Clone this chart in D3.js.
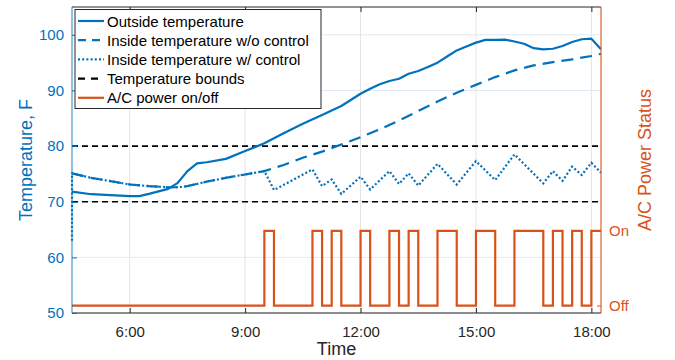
<!DOCTYPE html>
<html>
<head>
<meta charset="utf-8">
<script src="https://cdn.jsdelivr.net/npm/d3@7"></script>
<style>
  body { margin: 0; background: #fff; }
  text { font-family: "Liberation Sans", Arial, Helvetica, sans-serif; }
</style>
</head>
<body>
<div id="chart"></div>
<script>
var svgWidth = 675;
var svgHeight = 360;

var margin = {top: 7, right: 74, bottom: 47, left: 72};

var chartWidth = svgWidth - margin.left - margin.right;
var chartHeight = svgHeight - margin.top - margin.bottom;

// hours of day and temperatures (F)
var outsideHours = [4.5, 5, 5.5, 6, 6.25, 6.5, 7, 7.25, 7.5, 7.75, 8, 8.5, 9, 9.5, 10, 10.5, 11, 11.5, 12, 12.25, 12.5, 12.75, 13, 13.25, 13.5, 13.75, 14, 14.25, 14.5, 14.75, 15, 15.25, 15.5, 15.75, 16, 16.25, 16.5, 16.75, 17, 17.25, 17.5, 17.75, 18, 18.25];
var outsideTemp = [71.8, 71.35, 71.2, 71.0, 71.0, 71.4, 72.3, 73.4, 75.5, 76.9, 77.1, 77.7, 79.1, 80.5, 82.3, 84.0, 85.6, 87.2, 89.4, 90.3, 91.1, 91.7, 92.1, 93.0, 93.5, 94.2, 95.0, 96.1, 97.2, 97.9, 98.6, 99.1, 99.1, 99.15, 98.8, 98.4, 97.6, 97.4, 97.5, 98.0, 98.7, 99.2, 99.3, 97.4];

var noCtrlHours = [4.5, 5, 5.5, 6, 6.5, 7, 7.25, 7.5, 8, 8.5, 9, 9.5, 10, 10.5, 11, 11.5, 12, 12.5, 13, 13.5, 14, 14.5, 15, 15.5, 16, 16.5, 17, 17.5, 18, 18.25];
var noCtrlTemp = [75.1, 74.3, 73.7, 73.1, 72.8, 72.6, 72.6, 72.8, 73.6, 74.3, 74.9, 75.5, 76.6, 77.9, 79.0, 80.3, 81.6, 83.0, 84.6, 86.3, 88.0, 89.6, 91.0, 92.4, 93.6, 94.5, 95.1, 95.6, 96.2, 96.6];

var ctrlHours = [4.5, 4.5, 5, 5.5, 6, 6.5, 7, 7.25, 7.5, 8, 8.5, 9, 9.5, 9.75, 10.75, 11, 11.25, 11.5, 12, 12.25, 12.75, 13, 13.25, 13.5, 14, 14.5, 15, 15.5, 16, 16.75, 17, 17.25, 17.5, 17.75, 18, 18.25];
var ctrlTemp = [63.0, 75.1, 74.3, 73.7, 73.1, 72.8, 72.6, 72.6, 72.8, 73.6, 74.3, 74.9, 75.5, 72.1, 75.8, 72.8, 74.0, 71.4, 74.5, 72.2, 75.5, 73.2, 75.1, 72.9, 76.8, 73.1, 77.3, 73.9, 78.5, 73.3, 75.5, 73.75, 76.3, 74.8, 77.0, 75.2];

var boundTemps = [80, 70];

// A/C on intervals (hours)
var acOnStart = [9.5, 10.75, 11.25, 12, 12.75, 13.25, 14, 15, 16, 17, 17.5, 18];
var acOnEnd = [9.75, 11, 11.5, 12.25, 13, 13.5, 14.5, 15.5, 16.75, 17.25, 17.75, 18.25];

var hourTicks = [6, 9, 12, 15, 18];
var tempTicks = [50, 60, 70, 80, 90, 100];
var statusTicks = [0, 1];
var statusLabels = ["Off", "On"];

var legendLabels = ["Outside temperature", "Inside temperature w/o control", "Inside temperature w/ control", "Temperature bounds", "A/C power on/off"];

var blue = "#0072BD";
var orange = "#D95319";
var dark = "#262626";

var svg = d3.select("#chart").append("svg")
            .attr("width", svgWidth)
            .attr("height", svgHeight);

var chartGroup = svg.append("g")
                    .attr("transform", `translate(${margin.left}, ${margin.top})`);

// Scales
var xScale = d3.scaleLinear().domain([4.5, 18.25]).range([0, chartWidth]);
var yScale = d3.scaleLinear().domain([50, 105]).range([chartHeight, 0]);
var yRight = d3.scaleLinear().domain([-0.1, 4]).range([chartHeight, 0]);

// Grid
chartGroup.append("g").selectAll("line")
    .data(hourTicks).enter().append("line")
    .attr("x1", d => xScale(d)).attr("x2", d => xScale(d))
    .attr("y1", 0).attr("y2", chartHeight)
    .attr("stroke", "#e4e4e4").attr("stroke-width", 1);

chartGroup.append("g").selectAll("line")
    .data(tempTicks).enter().append("line")
    .attr("x1", 0).attr("x2", chartWidth)
    .attr("y1", d => yScale(d)).attr("y2", d => yScale(d))
    .attr("stroke", "#dfeaf5").attr("stroke-width", 1);

// Temperature bounds
chartGroup.append("g").selectAll("line")
    .data(boundTemps).enter().append("line")
    .attr("x1", 0).attr("x2", chartWidth)
    .attr("y1", d => yScale(d)).attr("y2", d => yScale(d))
    .attr("stroke", "#000").attr("stroke-width", 1.6)
    .attr("stroke-dasharray", "6,4");

// A/C status as stairs
var acPoints = [[4.5, 0]];
acOnStart.forEach(function(s, i) {
    acPoints.push([s, 1]);
    acPoints.push([acOnEnd[i], 0]);
});
if (acOnEnd[acOnEnd.length - 1] >= 18.25) {
    acPoints[acPoints.length - 1] = [18.25, 1];
}

var stepLine = d3.line()
    .x(d => xScale(d[0]))
    .y(d => yRight(d[1]))
    .curve(d3.curveStepAfter);

var tempLine = d3.line()
    .x(d => xScale(d[0]))
    .y(d => yScale(d[1]));

var outside = outsideHours.map((h, i) => [h, outsideTemp[i]]);
var noCtrl = noCtrlHours.map((h, i) => [h, noCtrlTemp[i]]);
var ctrl = ctrlHours.map((h, i) => [h, ctrlTemp[i]]);

chartGroup.append("path")
    .attr("d", tempLine(outside))
    .attr("fill", "none").attr("stroke", blue).attr("stroke-width", 2.2)
    .attr("stroke-linejoin", "round");

chartGroup.append("path")
    .attr("d", tempLine(noCtrl))
    .attr("fill", "none").attr("stroke", blue).attr("stroke-width", 2.2)
    .attr("stroke-dasharray", "12,7");

chartGroup.append("path")
    .attr("d", tempLine(ctrl))
    .attr("fill", "none").attr("stroke", blue).attr("stroke-width", 2.2)
    .attr("stroke-dasharray", "2,2.2");

chartGroup.append("path")
    .attr("d", stepLine(acPoints))
    .attr("fill", "none").attr("stroke", orange).attr("stroke-width", 2.2);

// Axes
var xAxis = d3.axisBottom(xScale).tickValues(hourTicks)
    .tickFormat(d => d + ":00").tickSize(-5).tickPadding(13);
var xTop = d3.axisTop(xScale).tickValues(hourTicks)
    .tickFormat("").tickSize(-5);
var yAxis = d3.axisLeft(yScale).tickValues(tempTicks).tickSize(-5).tickPadding(8);
var yAxisRight = d3.axisRight(yRight).tickValues(statusTicks)
    .tickFormat((d, i) => statusLabels[i]).tickSize(-4).tickPadding(8);

var gx = chartGroup.append("g")
    .attr("transform", `translate(0, ${chartHeight})`)
    .call(xAxis);
gx.select(".domain").attr("stroke", dark).attr("d", `M0,0H${chartWidth}`);
gx.selectAll(".tick line").attr("stroke", dark);
gx.selectAll("text").attr("fill", dark).attr("font-size", "15px");

var gTop = chartGroup.append("g").call(xTop);
gTop.select(".domain").attr("stroke", dark).attr("d", `M0,0H${chartWidth}`);
gTop.selectAll(".tick line").attr("stroke", dark);

var gy = chartGroup.append("g").call(yAxis);
gy.select(".domain").attr("stroke", blue).attr("stroke-width", 1.6)
    .attr("stroke-opacity", 0.55).attr("d", `M0,${chartHeight}V0`);
gy.selectAll(".tick line").attr("stroke", blue);
gy.selectAll("text").attr("fill", blue).attr("font-size", "15px");

var gyr = chartGroup.append("g")
    .attr("transform", `translate(${chartWidth}, 0)`)
    .call(yAxisRight);
gyr.select(".domain").attr("stroke", orange).attr("stroke-width", 2)
    .attr("stroke-opacity", 0.55).attr("d", `M0,${chartHeight}V0`);
gyr.selectAll(".tick line").attr("stroke", orange);
gyr.selectAll("text").attr("fill", orange).attr("font-size", "15px");

// Axis labels
chartGroup.append("text")
    .attr("transform", `translate(${chartWidth / 2}, ${chartHeight + 42})`)
    .attr("text-anchor", "middle")
    .attr("font-size", "18px")
    .attr("fill", dark)
    .text("Time");

chartGroup.append("text")
    .attr("transform", `translate(${-margin.left + 32}, ${chartHeight / 2}) rotate(-90)`)
    .attr("text-anchor", "middle")
    .attr("font-size", "18px")
    .attr("fill", blue)
    .text("Temperature, F");

chartGroup.append("text")
    .attr("transform", `translate(${chartWidth + 50}, ${chartHeight / 2}) rotate(-90)`)
    .attr("text-anchor", "middle")
    .attr("font-size", "18px")
    .attr("fill", orange)
    .text("A/C Power Status");

// Legend
var legendStyles = [
    {color: blue, dash: null},
    {color: blue, dash: "8,6"},
    {color: blue, dash: "2,2.2"},
    {color: "#000", dash: "7,6"},
    {color: orange, dash: null}
];

var legend = chartGroup.append("g").attr("transform", "translate(3, 2.5)");
legend.append("rect")
    .attr("width", 246).attr("height", 99)
    .attr("fill", "#fff").attr("stroke", dark).attr("stroke-width", 1);

var rows = legend.selectAll("g.row")
    .data(legendLabels).enter().append("g")
    .attr("transform", (d, i) => `translate(0, ${11.5 + i * 19.2})`);

rows.append("line")
    .attr("x1", 3).attr("x2", 29).attr("y1", 0).attr("y2", 0)
    .attr("stroke", (d, i) => legendStyles[i].color)
    .attr("stroke-width", 2.2)
    .attr("stroke-dasharray", (d, i) => legendStyles[i].dash);

rows.append("text")
    .attr("x", 32).attr("y", 5.5)
    .attr("font-size", "15px")
    .attr("fill", "#000")
    .text(d => d);
</script>
</body>
</html>
